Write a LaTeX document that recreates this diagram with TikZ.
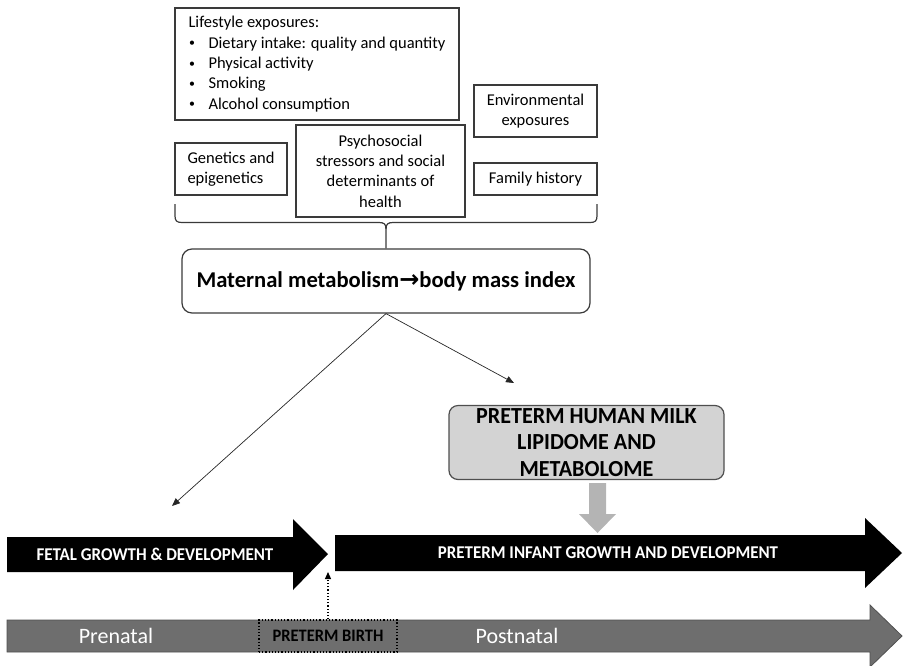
\documentclass[tikz,border=0pt]{standalone}
\usepackage{fontspec}
\setmainfont{Carlito}
\newfontfamily\arrowfont{DejaVu Sans}
\newfontfamily\condfont[FakeStretch=0.94]{Carlito}
\newfontfamily\milkfont[FakeStretch=0.96]{Carlito}
\usetikzlibrary{arrows.meta}
\definecolor{boxline}{HTML}{3A3A3A}
\definecolor{milkfill}{HTML}{D3D3D3}
\definecolor{downgray}{HTML}{B4B4B4}
\definecolor{tlgray}{HTML}{6E6E6E}
\definecolor{tlborder}{HTML}{505050}
\newcommand{\mybul}{\makebox[20pt][l]{\hspace{0.5pt}\raisebox{1.2pt}{\scalebox{0.72}{•}}}}
\begin{document}
\begin{tikzpicture}[x=1pt,y=-1pt,
  box/.style={draw=boxline,line width=1.3pt,inner sep=0pt,font=\fontsize{16.5}{20.3}\selectfont},
  conn/.style={draw=black!85,line width=0.7pt,-{Triangle[length=8pt,width=6.5pt]}},
  bracel/.style={draw=boxline,line width=1.2pt},
  arrtext/.style={text=white,font=\condfont\bfseries\fontsize{18}{21}\selectfont,inner sep=0pt},
  tltext/.style={text=white,font=\fontsize{22}{26}\selectfont,inner sep=0pt}]
\useasboundingbox (0,0) rectangle (904,665);

% top boxes
\node[box,minimum width=284,minimum height=112,align=left] (life) at (317,64)
 {Lifestyle exposures:\\
  \mybul Dietary intake: quality and quantity\\
  \mybul Physical activity\\
  \mybul Smoking\\
  \mybul Alcohol consumption};
\node[box,minimum width=123,minimum height=52,align=center] (env) at (535.5,111)
 {Environmental\\exposures};
\node[box,minimum width=112,minimum height=52,align=left] (gen) at (231,169)
 {Genetics and\\epigenetics};
\node[box,minimum width=169,minimum height=92,align=center] (psy) at (380.5,171)
 {Psychosocial\\stressors and social\\determinants of\\health};
\node[box,minimum width=123,minimum height=32,align=center] (fam) at (535.5,179)
 {Family history};

% maternal
\node[draw=boxline,line width=1.2pt,rounded corners=10pt,minimum width=408,minimum height=64,inner sep=0pt,
  font=\bfseries\fontsize{22.6}{26}\selectfont] (mat) at (386,281)
 {Maternal metabolism{\arrowfont\bfseries\fontsize{24}{26}\selectfont →}body mass index};

% brace
\draw[bracel] (175,204) -- (175,216) .. controls (175,221) and (177,222.5) .. (182,222.5)
  -- (379,222.5) .. controls (384,222.5) and (386,224) .. (386,229) -- (mat.north);
\draw[bracel] (597,204) -- (597,216) .. controls (597,221) and (595,222.5) .. (590,222.5)
  -- (393,222.5) .. controls (388,222.5) and (386,224) .. (386,229);

% connectors
\coordinate (tipL) at (172,506);
\coordinate (tipR) at (514,383);
\draw[conn] (mat.south) -- (tipL);
\draw[conn] (mat.south) -- (tipR);

% milk box
\node[draw=boxline!90,line width=1.2pt,fill=milkfill,rounded corners=9pt,minimum width=275,minimum height=74,inner sep=0pt,
  align=center,font=\milkfont\bfseries\fontsize{23}{26.5}\selectfont] (milk) at (586.5,442.5)
 {PRETERM HUMAN MILK\\LIPIDOME AND\\METABOLOME};

% gray down arrow
\fill[downgray] (589,483) -- (606,483) -- (606,514) -- (616,514) -- (597.5,533) -- (579,514) -- (589,514) -- cycle;

% black arrows
\fill[black] (7,537) -- (293,537) -- (293,519) -- (328,554) -- (293,590) -- (293,572) -- (7,572) -- cycle;
\node[arrtext] (fetal) at (155,554) {FETAL GROWTH \& DEVELOPMENT};
\fill[black] (335,535) -- (865,535) -- (865,518) -- (902,553) -- (865,588) -- (865,571) -- (335,571) -- cycle;
\node[arrtext] (infant) at (608,553) {PRETERM INFANT GROWTH AND DEVELOPMENT};

% timeline
\filldraw[fill=tlgray,draw=tlborder,line width=0.8pt] (7,620) -- (870,620) -- (870,605) -- (902,636) -- (870,667) -- (870,652) -- (7,652) -- cycle;
\node[tltext] (pre) at (116,636) {Prenatal};
\node[tltext] (post) at (517,636) {Postnatal};
\node[draw=black,dotted,line width=1.2pt,fill=tlgray,minimum width=138,minimum height=32,inner sep=0pt,
  font=\condfont\bfseries\fontsize{17.5}{20}\selectfont] (pb) at (328,636) {PRETERM BIRTH};
\coordinate (birthtip) at (328,572);
\draw[dotted,line width=1.2pt,-{Triangle[length=7pt,width=6pt]}] (pb.north) -- (birthtip);
\end{tikzpicture}
\end{document}
